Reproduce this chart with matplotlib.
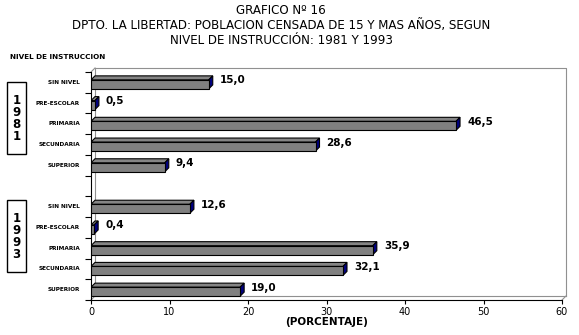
import matplotlib
matplotlib.use('Agg')
import matplotlib.pyplot as plt
from matplotlib.patches import Polygon, Rectangle

categories = ['SIN NIVEL', 'PRE-ESCOLAR', 'PRIMARIA', 'SECUNDARIA', 'SUPERIOR']
years = ['1981', '1993']
values_1981 = [15.0, 0.5, 46.5, 28.6, 9.4]
values_1993 = [12.6, 0.4, 35.9, 32.1, 19.0]
x_ticks = [0, 10, 20, 30, 40, 50, 60]
title_lines = ['GRAFICO Nº 16',
               'DPTO. LA LIBERTAD: POBLACION CENSADA DE 15 Y MAS AÑOS, SEGUN',
               'NIVEL DE INSTRUCCIÓN: 1981 Y 1993']

W, H = 579, 335
fig = plt.figure(figsize=(W / 100, H / 100), dpi=100)
fig.patch.set_facecolor('white')
ax_l, ax_r, ax_t, ax_b = 91, 562, 72, 300
ax = fig.add_axes([ax_l / W, 1 - ax_b / H, (ax_r - ax_l) / W, (ax_b - ax_t) / H])

nslots = 11
xmax = x_ticks[-1]
ax.set_xlim(0, xmax)
ax.set_ylim(nslots - 0.5, -0.5)

sx = xmax / (ax_r - ax_l)          # data per px (x)
sy = nslots / (ax_b - ax_t)        # data per px (y)
depth = 4
dx, dy = depth * sx, depth * sy
h = 9 * sy

gray = '#808080'
navy = '#000080'

# back wall / floor
lw = 0.8
top, bot = -0.5, nslots - 0.5
wall = dict(color='#909090', lw=lw, clip_on=False, zorder=1)
ax.plot([dx, xmax + dx, xmax + dx], [top - dy, top - dy, bot - dy], **wall)
ax.plot([dx, xmax + dx], [bot - dy, bot - dy], **wall)
ax.plot([dx, dx], [top - dy, bot - dy], **wall)
ax.plot([0, dx], [top, top - dy], **wall)
ax.plot([0, dx], [bot, bot - dy], **wall)
ax.plot([xmax, xmax + dx], [bot, bot - dy], **wall)

positions = [0, 1, 2, 3, 4, 6, 7, 8, 9, 10]
values = values_1981 + values_1993
labels = categories + categories

for y, v in zip(positions, values):
    y0 = y - h / 2 + dy / 2
    y1 = y0 + h
    ax.add_patch(Polygon([(0, y0), (v, y0), (v + dx, y0 - dy), (dx, y0 - dy)],
                         closed=True, facecolor='#858585', edgecolor='black', lw=0.8, zorder=3))
    ax.add_patch(Polygon([(v, y0), (v, y1), (v + dx, y1 - dy), (v + dx, y0 - dy)],
                         closed=True, facecolor=navy, edgecolor='black', lw=0.8, zorder=3))
    ax.add_patch(Rectangle((0, y0), v, h, facecolor=gray, edgecolor='black', lw=0.8, zorder=4))
    ax.text(v + dx + 7 * sx, y - dy / 2, f'{v:.1f}'.replace('.', ','),
            fontsize=7.5, fontweight='bold', va='center', ha='left', zorder=5)

for s in ['top', 'right']:
    ax.spines[s].set_visible(False)
ax.spines['left'].set_linewidth(0.8)
ax.spines['bottom'].set_linewidth(0.8)

ax.set_xticks(x_ticks)
ax.set_xticklabels([str(t) for t in x_ticks], fontsize=7)
ax.tick_params(axis='x', length=3, width=0.8, pad=2)

ax.set_yticks([p - 0.5 for p in range(nslots + 1)], minor=False)
ax.set_yticklabels([])
ax.tick_params(axis='y', length=4, width=0.8)
for y, lab in zip(positions, labels):
    ax.text(-11 * sx, y, lab, fontsize=4.6, fontweight='bold', ha='right', va='center',
            family='DejaVu Sans', fontstretch='condensed')

ax.set_xlabel('(PORCENTAJE)', fontsize=7.5, fontweight='bold', labelpad=0)

# titles
for i, t in enumerate(title_lines):
    fig.text(281 / W, 1 - (10 + 15 * i) / H, t, fontsize=8.6, ha='center', va='center')
fig.text(10 / W, 1 - 57 / H, 'NIVEL DE INSTRUCCION', fontsize=5.2, fontweight='bold',
         ha='left', va='center')

# year boxes
box_tops = [82, 200]
for yr, bt in zip(years, box_tops):
    fig.add_artist(Rectangle((7 / W, 1 - (bt + 72) / H), 19 / W, 72 / H,
                             transform=fig.transFigure, facecolor='white',
                             edgecolor='black', lw=1))
    for j, ch in enumerate(yr):
        fig.text(16.5 / W, 1 - (bt + 18 + 12 * j) / H, ch, fontsize=8.5, fontweight='bold',
                 ha='center', va='center')

fig.savefig('out.png', dpi=100)
